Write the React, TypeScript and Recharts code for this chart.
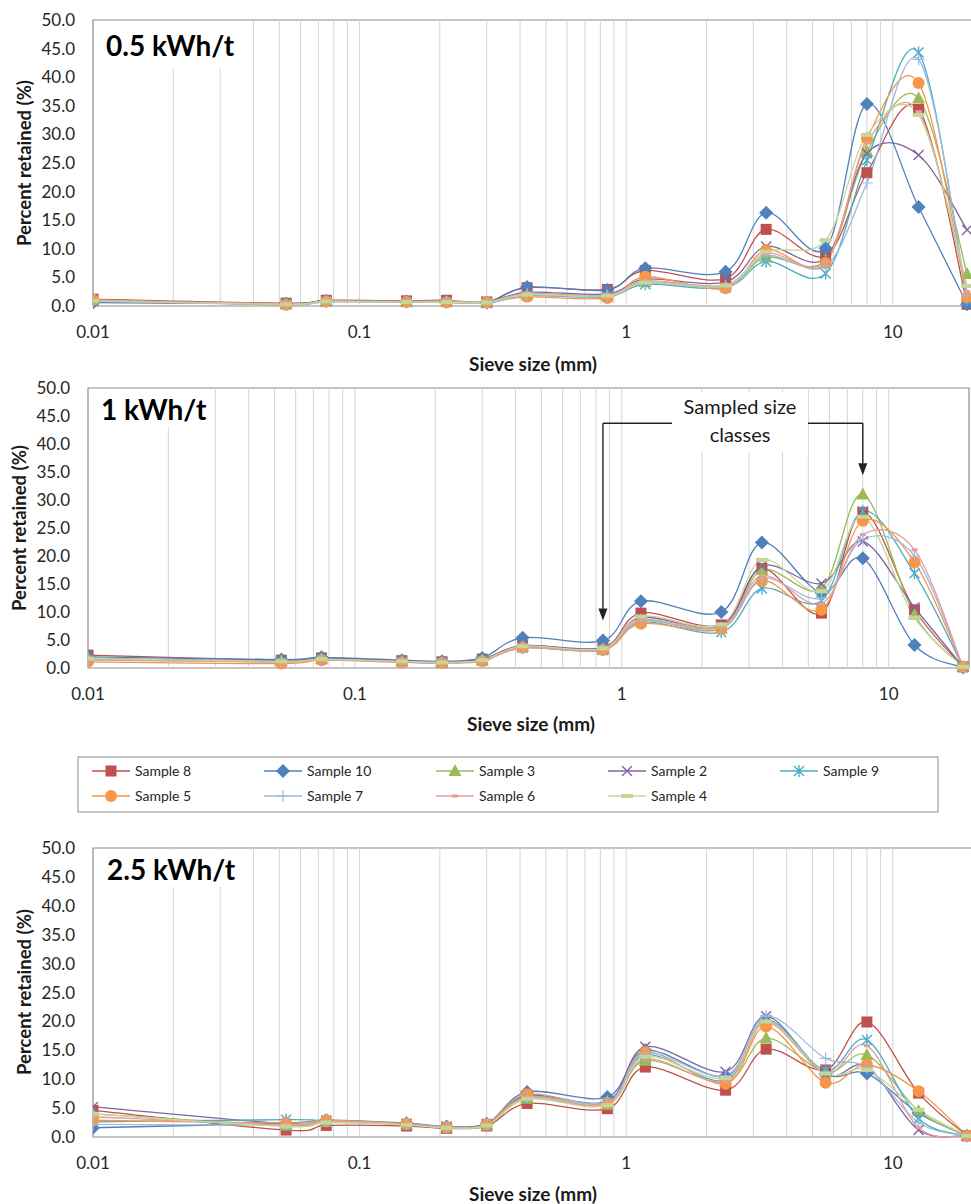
import React from 'react'
import { LineChart, Line, XAxis, YAxis, ReferenceLine, ReferenceArea, ReferenceDot } from 'recharts'

const FONT = 'Lato, "Open Sans", sans-serif'

// sieve sizes (mm)
const SIEVE_MM = [0.01, 0.053, 0.075, 0.15, 0.212, 0.3, 0.425, 0.85, 1.18, 2.36, 3.35, 5.6, 8, 12.5, 19]

// 0.5 kWh/t
const S8_05 = [1.2, 0.5, 1.0, 0.9, 1.0, 0.7, 3.2, 2.9, 6.2, 4.8, 13.4, 8.8, 23.3, 34.4, 0.3]
const S10_05 = [0.6, 0.4, 0.9, 0.8, 0.8, 0.6, 3.3, 2.8, 6.6, 6.0, 16.3, 10.1, 35.3, 17.3, 0.3]
const S3_05 = [1.0, 0.3, 0.8, 0.7, 0.7, 0.6, 2.0, 1.8, 4.2, 3.5, 8.5, 8.0, 27.0, 36.3, 5.6]
const S2_05 = [1.0, 0.4, 0.9, 0.8, 0.8, 0.7, 2.4, 2.1, 4.7, 4.2, 10.4, 8.4, 26.7, 26.4, 13.3]
const S9_05 = [0.8, 0.3, 0.8, 0.7, 0.7, 0.5, 1.8, 1.6, 3.8, 3.2, 7.8, 5.7, 25.5, 44.3, 1.0]
const S5_05 = [1.1, 0.2, 0.8, 0.7, 0.6, 0.6, 1.6, 1.4, 5.1, 3.1, 9.8, 7.5, 29.3, 39.0, 1.5]
const S7_05 = [0.9, 0.3, 0.7, 0.7, 0.7, 0.5, 1.9, 1.7, 4.0, 3.4, 8.8, 7.0, 21.5, 43.1, 1.8]
const S6_05 = [1.0, 0.4, 0.9, 0.8, 0.9, 0.7, 2.2, 1.9, 4.4, 3.7, 9.2, 7.8, 28.5, 34.0, 2.5]
const S4_05 = [0.9, 0.3, 0.8, 0.7, 0.7, 0.6, 2.0, 1.8, 4.1, 3.6, 9.5, 11.5, 29.9, 33.4, 3.5]

// 1 kWh/t
const S8_1 = [2.3, 1.4, 1.8, 1.3, 1.1, 1.6, 4.0, 3.6, 9.8, 7.7, 17.8, 9.8, 27.8, 10.4, 0.2]
const S10_1 = [2.0, 1.5, 1.9, 1.4, 1.2, 1.8, 5.4, 4.9, 11.9, 10.0, 22.4, 13.5, 19.6, 4.1, 0.1]
const S3_1 = [1.8, 1.2, 1.6, 1.2, 1.0, 1.4, 3.8, 3.3, 8.5, 7.0, 17.5, 14.2, 31.0, 9.5, 0.2]
const S2_1 = [1.6, 1.3, 1.7, 1.3, 1.1, 1.5, 4.0, 3.6, 9.0, 7.5, 18.2, 15.1, 22.6, 10.8, 0.2]
const S9_1 = [1.5, 1.1, 1.5, 1.1, 0.9, 1.3, 3.6, 3.2, 8.2, 6.4, 14.2, 12.0, 28.0, 16.9, 0.2]
const S5_1 = [1.1, 0.8, 1.4, 1.0, 0.9, 1.2, 3.6, 3.2, 7.9, 7.0, 15.6, 10.4, 26.3, 18.9, 0.2]
const S7_1 = [1.4, 1.1, 1.5, 1.1, 0.9, 1.3, 3.7, 3.3, 8.4, 7.2, 16.0, 12.5, 23.0, 20.0, 0.2]
const S6_1 = [1.5, 1.1, 1.5, 1.1, 1.0, 1.3, 3.7, 3.3, 8.6, 7.4, 16.5, 11.5, 23.8, 21.1, 0.2]
const S4_1 = [1.7, 1.2, 1.6, 1.2, 1.0, 1.4, 3.9, 3.5, 9.2, 7.8, 19.3, 13.7, 27.0, 9.0, 0.2]

// 2.5 kWh/t
const S8_25 = [4.6, 1.2, 2.0, 1.9, 1.5, 1.9, 5.8, 4.9, 12.1, 8.1, 15.2, 11.6, 19.9, 7.6, 0.2]
const S10_25 = [1.6, 2.4, 2.9, 2.4, 1.8, 2.3, 7.8, 6.9, 15.0, 10.5, 20.0, 10.9, 11.0, 4.1, 0.2]
const S3_25 = [4.0, 2.0, 2.6, 2.1, 1.6, 2.0, 6.6, 5.6, 13.2, 9.5, 17.1, 11.2, 14.2, 4.5, 0.2]
const S2_25 = [5.2, 2.3, 2.8, 2.3, 1.8, 2.3, 7.2, 6.2, 15.6, 11.3, 20.9, 10.8, 12.2, 1.2, 0.2]
const S9_25 = [2.6, 3.0, 2.8, 2.3, 1.7, 2.2, 7.0, 6.0, 14.2, 9.8, 20.3, 11.5, 16.8, 3.2, 0.2]
const S5_25 = [2.9, 2.4, 2.9, 2.3, 1.7, 2.2, 7.4, 5.9, 14.7, 9.2, 19.1, 9.4, 12.5, 7.9, 0.2]
const S7_25 = [2.2, 2.1, 2.7, 2.2, 1.7, 2.1, 6.9, 6.1, 14.5, 10.6, 20.9, 13.6, 12.0, 2.5, 0.2]
const S6_25 = [3.5, 2.1, 2.6, 2.2, 1.6, 2.1, 6.8, 5.7, 13.5, 9.6, 19.8, 11.0, 15.8, 1.6, 0.2]
const S4_25 = [4.0, 1.8, 2.5, 2.1, 1.6, 2.0, 6.6, 5.5, 13.9, 10.2, 20.0, 11.0, 11.6, 4.7, 0.2]

const Y_TICKS = [0, 5, 10, 15, 20, 25, 30, 35, 40, 45, 50]
const X_TICKS = [0.01, 0.1, 1, 10]

type Shape = 'square' | 'diamond' | 'triangle' | 'x' | 'star' | 'circle' | 'plus' | 'shortdash' | 'dash'

const SERIES: { key: string; name: string; color: string; shape: Shape }[] = [
  { key: 's8', name: 'Sample 8', color: '#C0504D', shape: 'square' },
  { key: 's10', name: 'Sample 10', color: '#4F81BD', shape: 'diamond' },
  { key: 's3', name: 'Sample 3', color: '#9BBB59', shape: 'triangle' },
  { key: 's2', name: 'Sample 2', color: '#8064A2', shape: 'x' },
  { key: 's9', name: 'Sample 9', color: '#4BACC6', shape: 'star' },
  { key: 's5', name: 'Sample 5', color: '#F79646', shape: 'circle' },
  { key: 's7', name: 'Sample 7', color: '#9DB9DE', shape: 'plus' },
  { key: 's6', name: 'Sample 6', color: '#E59C9B', shape: 'shortdash' },
  { key: 's4', name: 'Sample 4', color: '#C3D69B', shape: 'dash' },
]

const build = (cols: Record<string, number[]>) =>
  SIEVE_MM.map((size, i) => {
    const row: Record<string, number> = { size }
    Object.keys(cols).forEach(k => { row[k] = cols[k][i] })
    return row
  })

const DATA_05 = build({ s8: S8_05, s10: S10_05, s3: S3_05, s2: S2_05, s9: S9_05, s5: S5_05, s7: S7_05, s6: S6_05, s4: S4_05 })
const DATA_1 = build({ s8: S8_1, s10: S10_1, s3: S3_1, s2: S2_1, s9: S9_1, s5: S5_1, s7: S7_1, s6: S6_1, s4: S4_1 })
const DATA_25 = build({ s8: S8_25, s10: S10_25, s3: S3_25, s2: S2_25, s9: S9_25, s5: S5_25, s7: S7_25, s6: S6_25, s4: S4_25 })

// minor log gridlines, 0.02 .. 10
const GRID_MM: number[] = []
;[0.01, 0.1, 1].forEach(d => { for (let m = 2; m <= 10; m++) GRID_MM.push(+(d * m).toPrecision(3)) })

// Excel-like smoothed line (Catmull-Rom as cubic bezier)
const smoothCurve = (context: any) => {
  let pts: number[][] = []
  return {
    areaStart() {},
    areaEnd() {},
    lineStart() { pts = [] },
    point(x: number, y: number) { pts.push([+x, +y]) },
    lineEnd() {
      if (!pts.length) return
      context.moveTo(pts[0][0], pts[0][1])
      for (let i = 0; i < pts.length - 1; i++) {
        const p0 = pts[i - 1] || pts[i]
        const p1 = pts[i]
        const p2 = pts[i + 1]
        const p3 = pts[i + 2] || p2
        context.bezierCurveTo(
          p1[0] + (p2[0] - p0[0]) / 6, p1[1] + (p2[1] - p0[1]) / 6,
          p2[0] - (p3[0] - p1[0]) / 6, p2[1] - (p3[1] - p1[1]) / 6,
          p2[0], p2[1],
        )
      }
    },
  }
}

function Marker({ shape, cx, cy, color }: { shape: Shape; cx: number; cy: number; color: string }) {
  switch (shape) {
    case 'square':
      return <rect x={cx - 5.5} y={cy - 5.5} width={11} height={11} fill={color} />
    case 'diamond':
      return <path d={`M${cx},${cy - 7}L${cx + 7},${cy}L${cx},${cy + 7}L${cx - 7},${cy}Z`} fill={color} />
    case 'triangle':
      return <path d={`M${cx},${cy - 7}L${cx + 6.5},${cy + 5}L${cx - 6.5},${cy + 5}Z`} fill={color} />
    case 'x':
      return (
        <path d={`M${cx - 5},${cy - 5}L${cx + 5},${cy + 5}M${cx + 5},${cy - 5}L${cx - 5},${cy + 5}`}
          stroke={color} strokeWidth={1.4} fill="none" />
      )
    case 'star':
      return (
        <path d={`M${cx - 5},${cy - 5}L${cx + 5},${cy + 5}M${cx + 5},${cy - 5}L${cx - 5},${cy + 5}M${cx},${cy - 6}L${cx},${cy + 6}`}
          stroke={color} strokeWidth={1.4} fill="none" />
      )
    case 'circle':
      return <circle cx={cx} cy={cy} r={6} fill={color} />
    case 'plus':
      return (
        <path d={`M${cx - 6},${cy}L${cx + 6},${cy}M${cx},${cy - 6}L${cx},${cy + 6}`}
          stroke={color} strokeWidth={1.2} fill="none" />
      )
    case 'shortdash':
      return <rect x={cx - 3} y={cy - 1.5} width={6} height={3} fill={color} />
    case 'dash':
      return <rect x={cx - 6} y={cy - 2} width={12} height={4} fill={color} />
  }
  return null
}

const Arrowhead = (p: any) => (
  <path d={`M${p.cx},${p.cy}L${p.cx - 4.5},${p.cy - 12}L${p.cx + 4.5},${p.cy - 12}Z`} fill="#222" />
)

interface PanelProps {
  data: Record<string, number>[]
  top: number
  plotHeight: number
  axisWidth: number
  rightMargin: number
  annotate?: boolean
}

function Panel({ data, top, plotHeight, axisWidth, rightMargin, annotate }: PanelProps) {
  return (
    <div style={{ position: 'absolute', left: 0, top }}>
      <LineChart width={990} height={20 + plotHeight + 40} data={data}
        margin={{ top: 20, right: rightMargin, bottom: 0, left: 0 }}>
        <XAxis dataKey="size" type="number" scale="log" domain={[0.01, 20]} allowDataOverflow
          ticks={X_TICKS} interval={0} tickFormatter={v => String(v)}
          tick={{ fill: '#262626', fontSize: 17, fontFamily: FONT }}
          axisLine={false} tickLine={false} tickSize={8} tickMargin={12} height={40} />
        <YAxis type="number" domain={[0, 50]} ticks={Y_TICKS} interval={0} width={axisWidth}
          tickFormatter={v => Number(v).toFixed(1)}
          tick={{ fill: '#262626', fontSize: 17, fontFamily: FONT }}
          axisLine={false} tickLine={false} tickSize={8} tickMargin={10} />
        {GRID_MM.map(v => (
          <ReferenceLine key={v} x={v} stroke="#D4D4D4" strokeWidth={1} />
        ))}
        <ReferenceArea x1={0.01} x2={20} y1={0} y2={50} fill="none" fillOpacity={0} stroke="#8C8C8C" strokeWidth={1.2} />
        {annotate && (
          <>
            <ReferenceLine segment={[{ x: 0.85, y: 43.7 }, { x: 1.58, y: 43.7 }]} stroke="#222" strokeWidth={1.4} />
            <ReferenceLine segment={[{ x: 0.85, y: 43.7 }, { x: 0.85, y: 10.6 }]} stroke="#222" strokeWidth={1.4} />
            <ReferenceDot x={0.85} y={8.5} r={0} shape={Arrowhead} />
            <ReferenceLine segment={[{ x: 4.8, y: 43.7 }, { x: 8, y: 43.7 }]} stroke="#222" strokeWidth={1.4} />
            <ReferenceLine segment={[{ x: 8, y: 43.7 }, { x: 8, y: 36.5 }]} stroke="#222" strokeWidth={1.4} />
            <ReferenceDot x={8} y={34.4} r={0} shape={Arrowhead} />
          </>
        )}
        {SERIES.map(s => (
          <Line key={s.key} dataKey={s.key} name={s.name} type={smoothCurve as any}
            stroke={s.color} strokeWidth={1.3} isAnimationActive={false} activeDot={false}
            dot={(p: any) => (
              <Marker key={`${s.key}-${p.index}`} shape={s.shape} cx={p.cx} cy={p.cy} color={s.color} />
            )} />
        ))}
      </LineChart>
    </div>
  )
}

const textBase: React.CSSProperties = { position: 'absolute', fontFamily: FONT, color: '#1a1a1a', whiteSpace: 'nowrap' }

function YTitle({ x, y }: { x: number; y: number }) {
  return (
    <div style={{ ...textBase, left: x, top: y, fontSize: 18.5, fontWeight: 700, transform: 'translate(-50%, -50%) rotate(-90deg)' }}>
      Percent retained (%)
    </div>
  )
}

function XTitle({ x, y }: { x: number; y: number }) {
  return (
    <div style={{ ...textBase, left: x, top: y, fontSize: 19, fontWeight: 700, transform: 'translate(-50%, -50%)' }}>
      Sieve size (mm)
    </div>
  )
}

function PanelTitle({ x, y, w, h, text }: { x: number; y: number; w: number; h: number; text: string }) {
  return (
    <div style={{ ...textBase, left: x, top: y, width: w, height: h, background: '#fff', fontSize: 28, fontWeight: 700,
      display: 'flex', alignItems: 'center', paddingLeft: 10, boxSizing: 'border-box', color: '#000' }}>
      {text}
    </div>
  )
}

function LegendBox() {
  const colX = [92, 264, 436, 608, 780]
  const rowY = [15, 40]
  return (
    <svg width={862} height={57} style={{ position: 'absolute', left: 77, top: 756 }}>
      <rect x={1} y={1} width={860} height={55} fill="#fff" stroke="#8C8C8C" strokeWidth={1} />
      {SERIES.map((s, i) => {
        const x = colX[i % 5] - 77
        const y = rowY[Math.floor(i / 5)]
        return (
          <g key={s.key}>
            <line x1={x} x2={x + 38} y1={y} y2={y} stroke={s.color} strokeWidth={1.6} />
            <Marker shape={s.shape} cx={x + 19} cy={y} color={s.color} />
            <text x={x + 43} y={y} dy="0.35em" fontFamily={FONT} fontSize={14} fill="#262626">{s.name}</text>
          </g>
        )
      })}
    </svg>
  )
}

export default function App() {
  return (
    <div style={{ position: 'absolute', left: 0, top: 0, width: 971, height: 1204, overflow: 'hidden', background: '#fff' }}>
      <Panel data={DATA_05} top={0} plotHeight={286} axisWidth={93} rightMargin={17} />
      <Panel data={DATA_1} top={368} plotHeight={280} axisWidth={88} rightMargin={21} annotate />
      <Panel data={DATA_25} top={828} plotHeight={289} axisWidth={93} rightMargin={17} />

      <PanelTitle x={96} y={22} w={140} h={46} text="0.5 kWh/t" />
      <PanelTitle x={91} y={390} w={120} h={37} text="1 kWh/t" />
      <PanelTitle x={97} y={850} w={140} h={37} text="2.5 kWh/t" />

      <div style={{ ...textBase, left: 672, top: 392, width: 136, height: 60, background: '#fff', fontSize: 20,
        textAlign: 'center', lineHeight: '28px', color: '#1a1a1a' }}>
        Sampled size<br />classes
      </div>

      <YTitle x={24} y={163} />
      <YTitle x={19} y={528} />
      <YTitle x={24} y={992} />
      <XTitle x={533} y={363} />
      <XTitle x={531} y={723} />
      <XTitle x={533} y={1193} />

      <LegendBox />
    </div>
  )
}
